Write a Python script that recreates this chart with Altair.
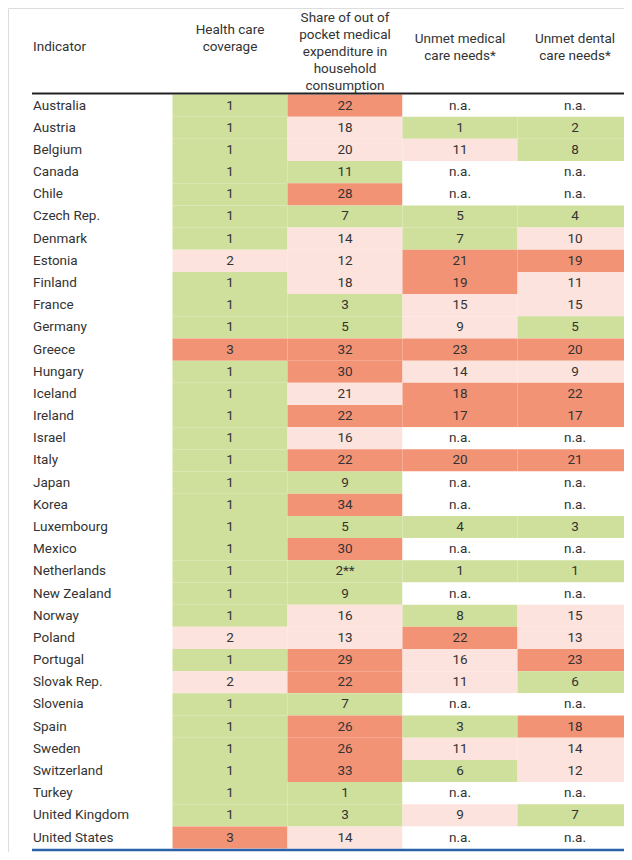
import altair as alt
import pandas as pd

countries = ["Australia", "Austria", "Belgium", "Canada", "Chile", "Czech Rep.", "Denmark",
             "Estonia", "Finland", "France", "Germany", "Greece", "Hungary", "Iceland",
             "Ireland", "Israel", "Italy", "Japan", "Korea", "Luxembourg", "Mexico",
             "Netherlands", "New Zealand", "Norway", "Poland", "Portugal", "Slovak Rep.",
             "Slovenia", "Spain", "Sweden", "Switzerland", "Turkey", "United Kingdom",
             "United States"]

headers = ["Health care\ncoverage\n",
           "Share of out of\npocket medical\nexpenditure in\nhousehold\nconsumption",
           "Unmet medical\ncare needs*",
           "Unmet dental\ncare needs*"]

coverage = ["1", "1", "1", "1", "1", "1", "1", "2", "1", "1", "1", "3", "1", "1", "1", "1", "1",
            "1", "1", "1", "1", "1", "1", "1", "2", "1", "2", "1", "1", "1", "1", "1", "1", "3"]
coverage_cat = ["g", "g", "g", "g", "g", "g", "g", "p", "g", "g", "g", "r", "g", "g", "g", "g", "g",
                "g", "g", "g", "g", "g", "g", "g", "p", "g", "p", "g", "g", "g", "g", "g", "g", "r"]

oop = ["22", "18", "20", "11", "28", "7", "14", "12", "18", "3", "5", "32", "30", "21", "22", "16",
       "22", "9", "34", "5", "30", "2**", "9", "16", "13", "29", "22", "7", "26", "26", "33", "1",
       "3", "14"]
oop_cat = ["r", "p", "p", "g", "r", "g", "p", "p", "p", "g", "g", "r", "r", "p", "r", "p",
           "r", "g", "r", "g", "r", "g", "g", "p", "p", "r", "r", "g", "r", "r", "r", "g",
           "g", "p"]

medical = ["n.a.", "1", "11", "n.a.", "n.a.", "5", "7", "21", "19", "15", "9", "23", "14", "18",
           "17", "n.a.", "20", "n.a.", "n.a.", "4", "n.a.", "1", "n.a.", "8", "22", "16", "11",
           "n.a.", "3", "11", "6", "n.a.", "9", "n.a."]
medical_cat = ["n", "g", "p", "n", "n", "g", "g", "r", "r", "p", "p", "r", "p", "r",
               "r", "n", "r", "n", "n", "g", "n", "g", "n", "g", "r", "p", "p",
               "n", "g", "p", "g", "n", "p", "n"]

dental = ["n.a.", "2", "8", "n.a.", "n.a.", "4", "10", "19", "11", "15", "5", "20", "9", "22",
          "17", "n.a.", "21", "n.a.", "n.a.", "3", "n.a.", "1", "n.a.", "15", "13", "23", "6",
          "n.a.", "18", "14", "12", "n.a.", "7", "n.a."]
dental_cat = ["n", "g", "g", "n", "n", "g", "p", "r", "p", "p", "g", "r", "p", "r",
              "r", "n", "r", "n", "n", "g", "n", "g", "n", "p", "p", "r", "g",
              "n", "r", "p", "p", "n", "g", "n"]

cat_domain = ["g", "p", "r", "n"]
cat_colors = ["#cfe09c", "#fce3dd", "#f39376", "#ffffff"]

rows = []
for col, vals, cats in zip(headers, [coverage, oop, medical, dental],
                           [coverage_cat, oop_cat, medical_cat, dental_cat]):
    for c, v, k in zip(countries, vals, cats):
        rows.append({"country": c, "col": col, "label": v, "cat": k})
cells = pd.DataFrame(rows)
head_df = pd.DataFrame({"col": headers})
country_df = pd.DataFrame({"country": countries})
one = pd.DataFrame({"k": [0]})

FONT = "Roboto"
FS = 13.5
TXT = "#333333"
LH = 17.0
HEAD_MID = 39.0
HEAD_TOP_MIN = 9.5

xs = alt.Scale(domain=headers, range=[164.5, 624.5], paddingInner=0, paddingOuter=0)
ys = alt.Scale(domain=countries, range=[86.5, 840.6], paddingInner=0, paddingOuter=0)

X = alt.X("col:N", scale=xs, axis=None)
Y = alt.Y("country:N", scale=ys, axis=None)

rects = alt.Chart(cells).mark_rect(strokeWidth=0).encode(
    x=X, y=Y,
    fill=alt.Fill("cat:N", scale=alt.Scale(domain=cat_domain, range=cat_colors), legend=None),
)

nums = alt.Chart(cells).mark_text(font=FONT, fontSize=FS, color=TXT).encode(
    x=X, y=Y, text="label:N"
)

labels = alt.Chart(country_df).mark_text(font=FONT, fontSize=FS, color=TXT, align="left").encode(
    x=alt.value(25), y=Y, text="country:N"
)

heads = alt.Chart(head_df).transform_calculate(
    n="length(split(datum.col, '\\n'))",
    ty=f"max({HEAD_TOP_MIN}, {HEAD_MID} - (datum.n - 1) * {LH / 2})",
).mark_text(font=FONT, fontSize=FS, color=TXT, lineBreak="\n",
            lineHeight=LH, baseline="middle").encode(
    x=X, y=alt.Y("ty:Q", scale=None, axis=None), text="col:N"
)

ind = alt.Chart(one).mark_text(font=FONT, fontSize=FS, color=TXT, align="left",
                               baseline="middle").encode(
    x=alt.value(25), y=alt.value(39), text=alt.value("Indicator")
)

top_rule = alt.Chart(one).mark_rule(color="#222222", strokeWidth=2).encode(
    x=alt.value(24), x2=alt.value(616), y=alt.value(85.5)
)
bottom_rule = alt.Chart(one).mark_rule(color="#2a62aa", strokeWidth=2.5).encode(
    x=alt.value(24), x2=alt.value(616), y=alt.value(842)
)

chart = alt.layer(rects, nums, labels, heads, ind, top_rule, bottom_rule).resolve_scale(
    y="independent"
).properties(
    width=616, height=844, padding=0, autosize=alt.AutoSizeParams(type="none")
).configure_view(stroke=None).configure(background="#ffffff")

chart.save("out.html", embed_options={"renderer": "svg", "actions": False})
